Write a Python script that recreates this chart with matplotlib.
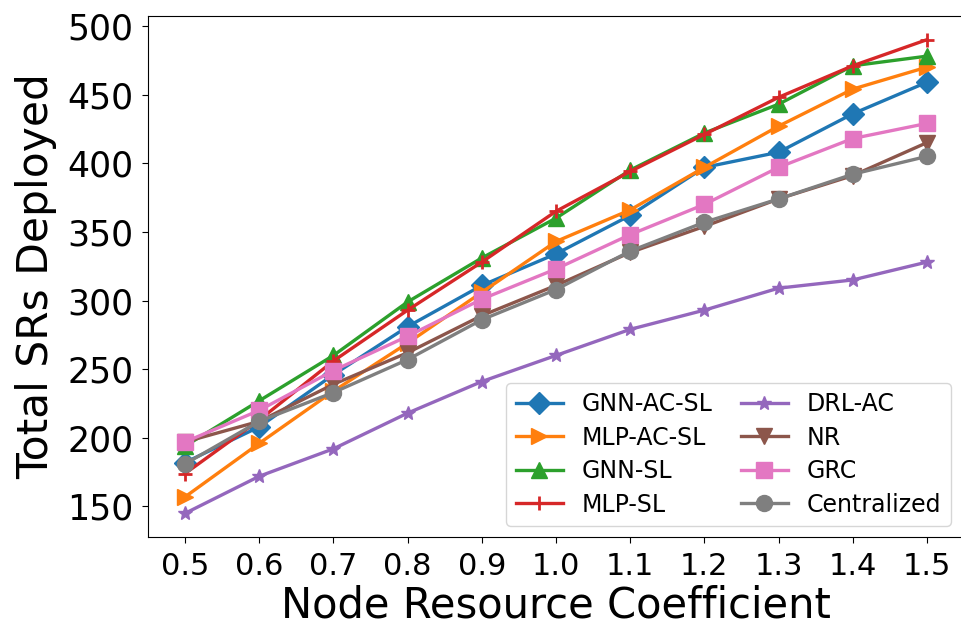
import numpy as np
import matplotlib
matplotlib.use("Agg")
from matplotlib import pyplot as plt
from matplotlib.ticker import MultipleLocator

coef = [0.5, 0.6, 0.7, 0.8, 0.9, 1.0, 1.1, 1.2, 1.3, 1.4, 1.5]

gnn_ac_sl = [182, 208, 246, 281, 311, 334, 362, 397, 408, 436, 459]
mlp_ac_sl = [157, 196, 234, 269, 306, 343, 366, 397, 427, 454, 470]
gnn_sl = [194, 227, 260, 299, 331, 360, 395, 422, 443, 471, 478]
mlp_sl = [174, 213, 256, 293, 328, 365, 394, 421, 448, 471, 490]
drl_ac = [145, 172, 192, 218, 241, 260, 279, 293, 309, 315, 328]
nr = [197, 212, 239, 262, 289, 311, 335, 354, 374, 391, 415]
grc = [197, 220, 249, 274, 301, 323, 348, 370, 397, 418, 429]
centralized = [181, 212, 233, 257, 286, 308, 336, 357, 374, 392, 405]

series = [
    ("GNN-AC-SL", gnn_ac_sl, "D", "tab:blue"),
    ("MLP-AC-SL", mlp_ac_sl, ">", "tab:orange"),
    ("GNN-SL", gnn_sl, "^", "tab:green"),
    ("MLP-SL", mlp_sl, "+", "tab:red"),
    ("DRL-AC", drl_ac, "*", "tab:purple"),
    ("NR", nr, "v", "tab:brown"),
    ("GRC", grc, "s", "tab:pink"),
    ("Centralized", centralized, "o", "tab:gray"),
]

fig = plt.figure(figsize=(9.61, 6.29), dpi=100)
ax = fig.add_axes([148 / 961, 1 - 537 / 629, (964 - 148) / 961, (537 - 16) / 629])

for name, vals, mk, col in series:
    ms = 11.5 if mk not in ("*", "+") else 10
    mew = 2 if mk == "+" else 1
    ax.plot(coef, vals, marker=mk, color=col, label=name, linewidth=2.4,
            markersize=ms, markeredgewidth=mew)

ax.set_xticks(coef)
ax.set_xticklabels([f"{c:.1f}" for c in coef])
ax.yaxis.set_major_locator(MultipleLocator(50))
ax.spines["right"].set_visible(False)
ax.tick_params(axis="both", length=4.5, pad=6)
ax.tick_params(axis="x", labelsize=22)
ax.tick_params(axis="y", labelsize=25)
ax.set_xlabel("Node Resource Coefficient", fontsize=30, labelpad=3)
ax.set_ylabel("Total SRs Deployed", fontsize=30.5, labelpad=7)

ax.legend(loc="lower right", ncol=2, fontsize=17, columnspacing=1.2,
          handlelength=2.0, labelspacing=0.4, borderaxespad=0,
          bbox_to_anchor=(0.984, 0.021))

fig.savefig("out.png", dpi=100)
